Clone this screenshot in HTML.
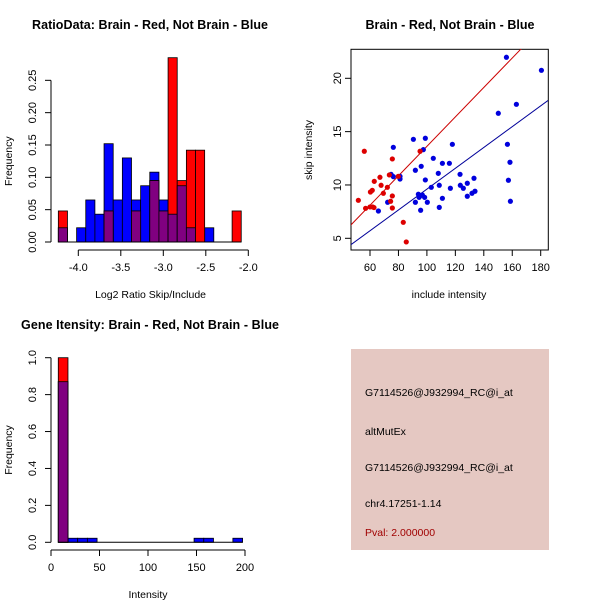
<!DOCTYPE html>
<html><head><meta charset="utf-8"><style>
body{margin:0;background:#fff;}
svg{display:block;font-family:"Liberation Sans",sans-serif;}
</style></head><body>
<svg id="c" width="600" height="600" viewBox="0 0 600 600">
<rect x="0" y="0" width="600" height="600" fill="#fff"/>
<text x="150" y="29" text-anchor="middle" font-weight="bold" font-size="12.5" textLength="236">RatioData: Brain - Red, Not Brain - Blue</text>
<text x="450" y="29" text-anchor="middle" font-weight="bold" font-size="12.5" textLength="169">Brain - Red, Not Brain - Blue</text>
<text x="150" y="329" text-anchor="middle" font-weight="bold" font-size="12.5" textLength="258">Gene Itensity: Brain - Red, Not Brain - Blue</text>
<g id="p1"></g>
<g id="p2"></g>
<g id="p3"></g>
<g>
<rect x="351" y="349" width="198" height="201" fill="#e5c8c2"/>
<text x="365" y="396" font-size="10.5">G7114526@J932994_RC@i_at</text>
<text x="365" y="435" font-size="10.5">altMutEx</text>
<text x="365" y="471" font-size="10.5">G7114526@J932994_RC@i_at</text>
<text x="365" y="507" font-size="10.5">chr4.17251-1.14</text>
<text x="365" y="536" font-size="10.5" fill="#a00000">Pval: 2.000000</text>
</g>
</svg>
<script>
// Ratio histogram data
const ratioBinStart = -4.235;
const ratioBinWidth = 0.1076;
const ratioBlue = [0.022,0,0.022,0.065,0.043,0.152,0.065,0.13,0.065,0.087,0.108,0.065,0.043,0.087,0.022,0,0.022,0,0,0];
const ratioRed = [0.048,0,0,0,0,0.048,0,0,0.048,0,0.095,0.048,0.285,0.095,0.142,0.142,0,0,0,0.048];
const ratioXTicks = [-4.0,-3.5,-3.0,-2.5,-2.0];
const ratioYTicks = [0,0.05,0.10,0.15,0.20,0.25];
const ratioXLabels = ["-4.0","-3.5","-3.0","-2.5","-2.0"];
const ratioYLabels = ["0.00","0.05","0.10","0.15","0.20","0.25"];
// Scatter data
const redInclude = [51.8,56,56.9,60,61.9,62.8,60.3,61.6,63,67,67.8,69.4,72.2,73.6,74.5,75.7,75.7,75.7,79.9,83.4,85.5,95.2];
const redSkip = [8.56,13.16,7.81,7.94,7.94,7.88,9.34,9.5,10.34,10.72,9.97,9.22,9.78,10.94,8.47,12.44,8.97,7.84,10.81,6.5,4.66,13.16];
const blueInclude = [65.9,72.4,74.8,76.4,76.4,81.1,81.1,90.5,91.9,91.9,94,94.5,95.4,95.6,96,96.8,97.5,98.9,98.9,98.4,100.3,103.1,104.5,108,108.7,108.7,110.9,110.9,115.8,116.5,117.9,123.3,123.5,125.6,128.4,128.4,131.7,133.8,133.1,150.2,155.9,156.6,157.3,158.4,158.7,162.9,180.5];
const blueSkip = [7.56,8.38,11.0,10.78,13.53,10.81,10.56,14.28,11.38,8.38,9.13,8.84,9.0,7.63,11.75,9.06,13.31,10.47,14.38,8.84,8.38,9.78,12.5,11.09,9.97,7.9,8.75,12.03,12.03,9.69,13.81,11.0,9.97,9.69,10.16,8.94,9.22,9.41,10.63,16.72,21.97,13.81,10.44,12.13,8.47,17.56,20.75];
const redFit = [-0.18,0.138];
const blueFit = [-0.15,0.0976];
const scatterXTicks = [60,80,100,120,140,160,180];
const scatterYTicks = [5,10,15,20];
// Gene histogram data
const geneBinStart = 7.5;
const geneBinWidth = 10;
const geneBlue = [0.87,0.022,0.022,0.022,0,0,0,0,0,0,0,0,0,0,0.022,0.022,0,0,0.022];
const geneRed = [1.0,0,0,0,0,0,0,0,0,0,0,0,0,0,0,0,0,0,0];
const geneXTicks = [0,50,100,150,200];
const geneYTicks = [0,0.2,0.4,0.6,0.8,1.0];
const geneYLabels = ["0.0","0.2","0.4","0.6","0.8","1.0"];

const NS="http://www.w3.org/2000/svg";
function mk(parent,tag,attrs,txt){const e=document.createElementNS(NS,tag);for(const k in attrs)e.setAttribute(k,attrs[k]);if(txt!==undefined)e.textContent=txt;parent.appendChild(e);return e;}

function hist(g,start,w,blue,red,sx,sy,xt,xl,yt,yl,xaxY,yaxX,xTitle,xTitleY,xr){
  for(let i=0;i<blue.length;i++){const x0=sx(start+i*w),x1=sx(start+(i+1)*w);
    if(blue[i]>0){const r=mk(g,'rect',{x:x0,y:sy(blue[i]),width:x1-x0,height:sy(0)-sy(blue[i]),fill:'#0000ff',stroke:'#000','stroke-width':0.8});
      
      }
  }
  for(let i=0;i<red.length;i++){const x0=sx(start+i*w),x1=sx(start+(i+1)*w);
    if(red[i]>0){const r=mk(g,'rect',{x:x0,y:sy(red[i]),width:x1-x0,height:sy(0)-sy(red[i]),fill:'#ff0000',stroke:'#000','stroke-width':0.8});
      
      }
    const m=Math.min(red[i],blue[i]);
    if(m>0){const r=mk(g,'rect',{x:x0,y:sy(m),width:x1-x0,height:sy(0)-sy(m),fill:'#800080',stroke:'#000','stroke-width':0.8});
      
      }
  }
  mk(g,'line',{x1:sx(start),x2:sx(start+blue.length*w),y1:sy(0),y2:sy(0),stroke:'#000'});
  axes(g,sx,sy,xt,xl,yt,yl,xaxY,yaxX);
  mk(g,'text',{x:(sx(xr[0])+sx(xr[1]))/2,y:xTitleY,'text-anchor':'middle','font-size':10.5},xTitle);
  mk(g,'text',{x:0,y:0,transform:`translate(12,${(sy(yt[0])+sy(yt[yt.length-1]))/2}) rotate(-90)`,'text-anchor':'middle','font-size':10.5},'Frequency');
}
function axes(g,sx,sy,xt,xl,yt,yl,xaxY,yaxX){
  mk(g,'line',{x1:sx(xt[0]),x2:sx(xt[xt.length-1]),y1:xaxY,y2:xaxY,stroke:'#000'});
  xt.forEach((v,i)=>{mk(g,'line',{x1:sx(v),x2:sx(v),y1:xaxY,y2:xaxY+6,stroke:'#000'});
    const t=mk(g,'text',{x:sx(v),y:xaxY+21,'text-anchor':'middle','font-size':11},xl[i]);
    
    });
  mk(g,'line',{x1:yaxX,x2:yaxX,y1:sy(yt[0]),y2:sy(yt[yt.length-1]),stroke:'#000'});
  yt.forEach((v,i)=>{mk(g,'line',{x1:yaxX,x2:yaxX-6,y1:sy(v),y2:sy(v),stroke:'#000'});
    const t=mk(g,'text',{x:0,y:0,transform:`translate(${yaxX-15},${sy(v)}) rotate(-90)`,'text-anchor':'middle','font-size':11},yl[i]);
    
    });
}
// Plot 1
(function(){const g=document.getElementById('p1');
  const sx=v=>78.3+(v+4)*85, sy=v=>242-v*646.7;
  hist(g,ratioBinStart,ratioBinWidth,ratioBlue,ratioRed,sx,sy,ratioXTicks,ratioXLabels,ratioYTicks,ratioYLabels,250,51,'Log2 Ratio Skip/Include',298,[-4.35,-1.95]);
})();
// Plot 2
(function(){const g=document.getElementById('p2');
  const sx=v=>370+(v-60)*1.4225, sy=v=>238.3-(v-5)*10.667;
  const clip=mk(g,'clipPath',{id:'sc'});mk(clip,'rect',{x:351,y:49,width:197,height:201});
  mk(g,'rect',{x:351,y:49.3,width:197.3,height:200.7,fill:'none',stroke:'#000'});
  const xl=scatterXTicks.map(String), yl=scatterYTicks.map(String);
  scatterXTicks.forEach((v,i)=>{mk(g,'line',{x1:sx(v),x2:sx(v),y1:250,y2:256,stroke:'#000'});
    const t=mk(g,'text',{x:sx(v),y:271,'text-anchor':'middle','font-size':11},xl[i]);
    
    });
  mk(g,'line',{x1:sx(60),x2:sx(180),y1:250,y2:250,stroke:'#000'});
  mk(g,'line',{x1:351,x2:351,y1:sy(5),y2:sy(20),stroke:'#000'});
  scatterYTicks.forEach((v,i)=>{mk(g,'line',{x1:351,x2:345,y1:sy(v),y2:sy(v),stroke:'#000'});
    const t=mk(g,'text',{x:0,y:0,transform:`translate(341,${sy(v)}) rotate(-90)`,'text-anchor':'middle','font-size':11},yl[i]);
    
    });
  mk(g,'text',{x:449,y:298,'text-anchor':'middle','font-size':10.5},'include intensity');
  mk(g,'text',{x:0,y:0,transform:'translate(312,150) rotate(-90)','text-anchor':'middle','font-size':10.5},'skip intensity');
  const cg=mk(g,'g',{'clip-path':'url(#sc)'});
  const x0=40,x1=200;
  const rl=mk(cg,'line',{x1:sx(x0),y1:sy(redFit[0]+redFit[1]*x0),x2:sx(x1),y2:sy(redFit[0]+redFit[1]*x1),stroke:'#cc0000'});
  
  
  const bl=mk(cg,'line',{x1:sx(x0),y1:sy(blueFit[0]+blueFit[1]*x0),x2:sx(x1),y2:sy(blueFit[0]+blueFit[1]*x1),stroke:'#000099'});
  
  
  blueInclude.forEach((v,i)=>{const c=mk(g,'circle',{cx:sx(v),cy:sy(blueSkip[i]),r:2.6,fill:'#0000dd'});
    
    });
  redInclude.forEach((v,i)=>{const c=mk(g,'circle',{cx:sx(v),cy:sy(redSkip[i]),r:2.6,fill:'#dd0000'});
    
    });
})();
// Plot 3
(function(){const g=document.getElementById('p3');
  const sx=v=>51+v*0.97, sy=v=>542.3-v*184.6;
  hist(g,geneBinStart,geneBinWidth,geneBlue,geneRed,sx,sy,geneXTicks,geneXTicks.map(String),geneYTicks,geneYLabels,550,51,'Intensity',598,[0,200]);
})();
</script>
</body></html>
